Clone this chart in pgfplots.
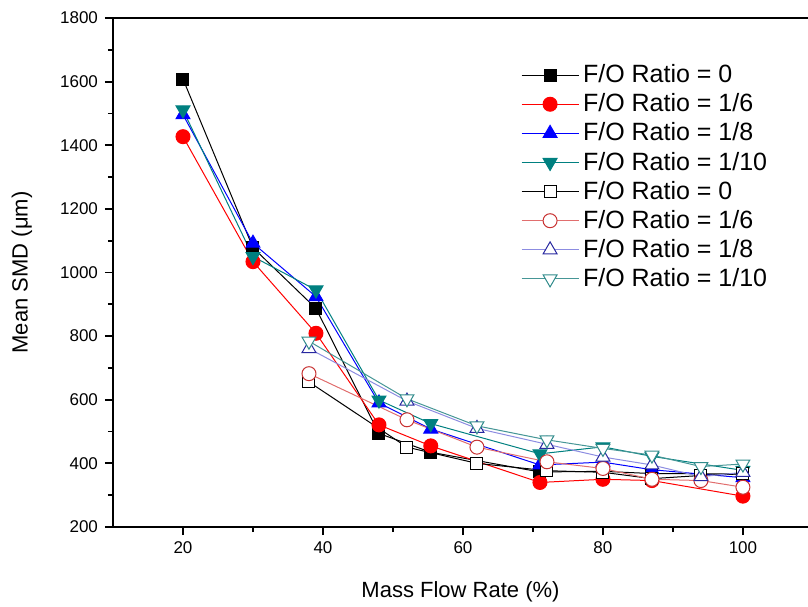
\documentclass[border=0pt]{standalone}
\usepackage{fontspec}
\setmainfont{Liberation Sans}
\usepackage{pgfplots}
\pgfplotsset{compat=1.18}
\definecolor{tealF}{RGB}{0,128,128}
\definecolor{redO}{RGB}{200,50,50}
\definecolor{redL}{RGB}{225,110,110}
\definecolor{blueO}{RGB}{40,40,160}
\definecolor{blueL}{RGB}{140,140,225}
\definecolor{tealO}{RGB}{50,140,140}
\definecolor{tealL}{RGB}{70,150,150}
\begin{document}
\begin{tikzpicture}
\begin{axis}[
  name=ax, at={(0,0)}, anchor=south west,
  scale only axis, width=347.5pt, height=254.5pt,
  xmin=10, xmax=109.3, ymin=200, ymax=1800,
  axis x line=box, axis y line=left,
  axis line style={-, line width=0.9pt},
  every outer x axis line/.append style={-},
  every outer y axis line/.append style={-},
  xtick={20,40,...,100}, ytick={200,400,...,1800},
  minor xtick={30,50,70,90},
  minor ytick={300,500,...,1700},
  tick align=outside, xtick pos=left,
  major tick length=4pt, minor tick length=2.5pt,
  every tick/.style={black, line width=0.9pt},
  tick label style={font=\fontsize{8.5}{10}\selectfont},
  /pgf/number format/assume math mode=true,
  /pgf/number format/1000 sep={},
  xlabel={Mass Flow Rate (\%)}, ylabel={Mean SMD (μm)},
  label style={font=\fontsize{11}{13}\selectfont},
  xlabel style={at={(axis description cs:0.5,-0.128)}, anchor=center},
  ylabel style={at={(axis description cs:-0.131,0.5)}, anchor=center},
  legend style={at={(0.578,0.925)}, anchor=north west, draw=none, fill=none,
    font=\fontsize{12.5}{15}\selectfont, row sep=0pt},
  legend cell align=left,
  legend image code/.code={\draw[mark repeat=2,mark phase=2] plot coordinates {(0cm,0cm) (0.5cm,0cm) (1cm,0cm)};},
]
% filled series
\addplot[black, line width=0.5pt, mark=square*, mark size=3pt, mark options={solid, fill=black}]
  coordinates {(20,1608) (30,1078) (39,887) (48,494) (55.4,435) (71,373) (80,375) (87,368) (100,367)};
\addlegendentry{F/O Ratio = 0}
\addplot[red, line width=0.5pt, mark=*, mark size=3.5pt, mark options={solid, fill=red}]
  coordinates {(20,1427) (30,1034) (39,809) (48,521) (55.4,455) (71,340) (80,350) (87,346) (100,297)};
\addlegendentry{F/O Ratio = 1/6}
\addplot[blue, line width=0.5pt, mark=triangle*, mark size=4pt, mark options={solid, fill=blue}]
  coordinates {(20,1496) (30,1092) (39,924) (48,590) (55.4,508) (71,395) (80,404) (87,380) (100,355)};
\addlegendentry{F/O Ratio = 1/8}
\addplot[tealF, line width=0.5pt, mark=triangle*, mark size=4pt, mark options={solid, fill=tealF, rotate=180}]
  coordinates {(20,1511) (30,1050) (39,945) (48,599) (55.4,525) (71,430) (80,452) (87,422) (100,378)};
\addlegendentry{F/O Ratio = 1/10}
% open series
\addplot[black, line width=0.5pt, mark=square*, mark size=3pt, mark options={solid, draw=black, fill=white}]
  coordinates {(38,656) (52,451) (62,400) (72,377) (80,372) (87,352) (94,362) (100,367)};
\addlegendentry{F/O Ratio = 0}
\addplot[redL, line width=0.5pt, mark=*, mark size=3.5pt, mark options={solid, draw=redO, fill=white}]
  coordinates {(38,682) (52,537) (62,451) (72,405) (80,384) (87,350) (94,346) (100,325)};
\addlegendentry{F/O Ratio = 1/6}
\addplot[blueL, line width=0.5pt, mark=triangle*, mark size=4pt, mark options={solid, draw=blueO, fill=white}]
  coordinates {(38,761) (52,596) (62,510) (72,460) (80,420) (87,395) (94,358) (100,372)};
\addlegendentry{F/O Ratio = 1/8}
\addplot[tealL, line width=0.5pt, mark=triangle*, mark size=4pt, mark options={solid, draw=tealO, fill=white, rotate=180}]
  coordinates {(38,784) (52,603) (62,518) (72,474) (80,447) (87,426) (94,390) (100,398)};
\addlegendentry{F/O Ratio = 1/10}
\end{axis}
\pgfresetboundingbox
\path[use as bounding box] (-56.5pt,-39.5pt) rectangle (347.5pt,263.5pt);
\end{tikzpicture}
\end{document}
